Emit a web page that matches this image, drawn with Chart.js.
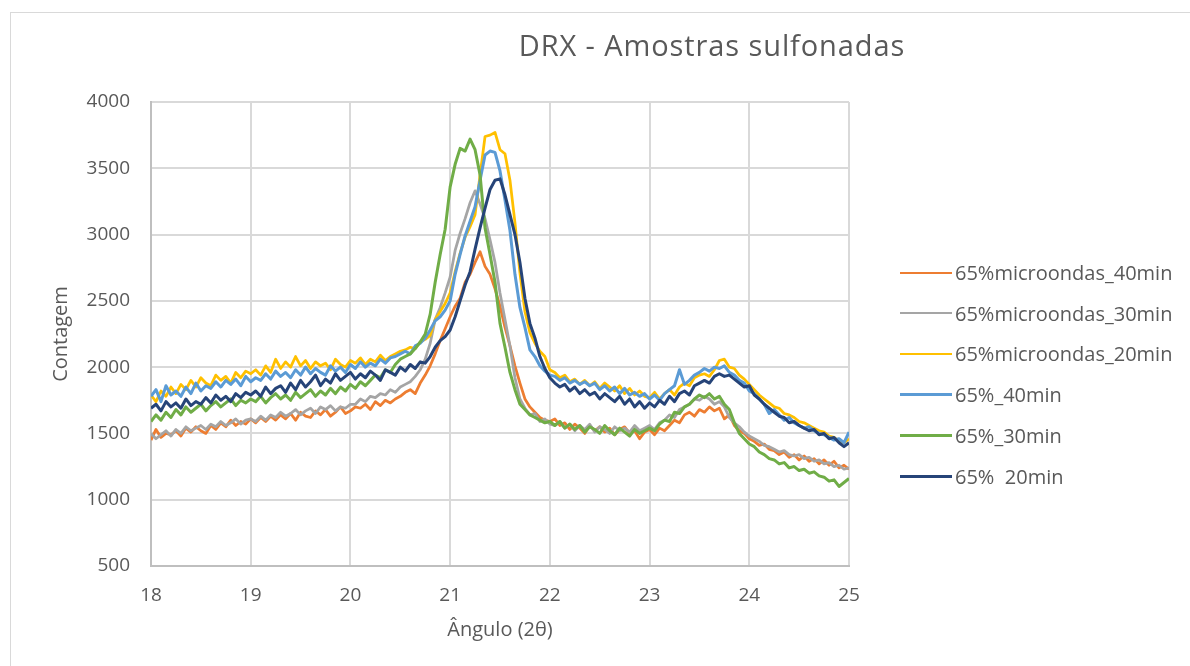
<!DOCTYPE html>
<html><head><meta charset="utf-8">
<script src="https://cdn.jsdelivr.net/npm/chart.js@4/dist/chart.umd.min.js"></script>
<style>
html,body{margin:0;padding:0;background:#fff;}
body{width:1190px;height:666px;overflow:hidden;position:relative;font-family:"Open Sans",sans-serif;}
#frame{position:absolute;left:10px;top:12px;width:1300px;height:800px;border-left:1px solid #d9d9d9;border-top:1px solid #d9d9d9;}
#c{position:absolute;left:0;top:0;}
#title{position:absolute;left:412px;width:600px;top:30px;text-align:center;font-size:29px;line-height:1;color:#595959;letter-spacing:0.9px;white-space:nowrap;}
.item{position:absolute;left:900px;height:24px;display:flex;align-items:center;white-space:pre;font-size:20px;color:#595959;}
.swatch{width:52px;margin-right:3px;}
</style></head>
<body>
<div id="frame"></div>
<canvas id="c" width="1190" height="666"></canvas>
<div id="title">DRX - Amostras sulfonadas</div>
<div id="legend"></div>
<script>
// ---- data ----
const CHART_TITLE = 'DRX - Amostras sulfonadas';
const X_TITLE = 'Ângulo (2θ)';
const Y_TITLE = 'Contagem';
const ANGLE_START = 18;
const ANGLE_STEP = 0.05;
const SERIES_LABELS = ['65%microondas_40min','65%microondas_30min','65%microondas_20min','65%_40min','65%_30min','65%  20min'];
const SERIES_COLORS = ['#ED7D31','#A5A5A5','#FFC000','#5B9BD5','#70AD47','#264478'];

const mw40 = [1450,1530,1470,1500,1490,1520,1480,1540,1510,1550,1520,1500,1560,1530,1580,1550,1600,1560,1590,1570,1610,
1580,1620,1590,1630,1600,1640,1610,1650,1600,1660,1630,1620,1670,1640,1680,1630,1660,1700,1650,1670,
1700,1690,1720,1680,1740,1710,1750,1730,1760,1780,
1810,1830,1800,1880,1940,2010,2100,2200,2290,
2380,2460,2520,2640,2700,2790,2870,2760,2700,2590,2460,2300,2160,2010,1880,1760,1700,1660,1620,1600,1590,
1610,1560,1580,1530,1570,1540,1500,1560,1520,1550,1510,1540,1490,1530,1550,1500,1520,1460,1510,
1530,1490,1540,1520,1560,1600,1580,1640,1660,1630,1680,1660,1700,1670,1690,1610,1640,1560,1520,1500,1460,1440,1410,1420,1380,1370,1340,1360,1320,1340,1300,1330,1290,1310,1270,1300,1260,1290,1240,1260,1230];

const mw30 = [1500,1460,1490,1520,1480,1530,1500,1550,1520,1540,1560,1530,1570,1550,1590,1560,1580,1610,1570,1600,1610,
1590,1630,1600,1640,1620,1660,1630,1650,1680,1640,1670,1690,1650,1700,1680,1710,1670,1700,1690,1720,
1720,1760,1740,1780,1770,1800,1790,1830,1810,1850,
1870,1890,1930,1980,2060,2180,2360,2450,2560,
2680,2880,3010,3120,3240,3330,3230,3120,2960,2790,2560,2360,2160,1920,1760,1690,1640,1650,1590,1610,1570,
1560,1590,1540,1570,1520,1560,1530,1570,1510,1550,1530,1500,1550,1520,1540,1510,1560,1520,1540,
1560,1530,1580,1600,1640,1620,1680,1700,1720,1760,1750,1780,1760,1720,1740,1700,1620,1580,1550,1510,1480,1460,1440,1410,1400,1380,1360,1370,1340,1330,1340,1310,1320,1290,1300,1270,1280,1250,1260,1230,1240];

const mw20 = [1790,1740,1820,1780,1850,1800,1870,1830,1900,1850,1920,1880,1860,1940,1900,1930,1880,1960,1920,1970,1950,
1980,1940,2010,1960,2060,1990,2040,2000,2080,2010,2050,1990,2040,2010,2030,1980,2060,2020,2000,2050,
2030,2070,2020,2060,2040,2090,2050,2080,2100,2120,
2130,2150,2140,2190,2210,2240,2360,2420,2480,
2560,2720,2860,2980,3060,3150,3450,3740,3750,3770,3640,3610,3410,3090,2710,2420,2260,2180,2120,2080,1980,
1960,1920,1940,1890,1910,1870,1900,1860,1890,1840,1880,1850,1820,1860,1800,1840,1790,1820,1780,
1770,1810,1760,1800,1830,1790,1850,1880,1860,1920,1940,1950,1930,1980,2050,2060,2000,1990,1940,1910,1870,1830,1790,1760,1730,1700,1690,1650,1640,1620,1590,1580,1560,1540,1520,1510,1480,1470,1440,1430,1460];

const p40 = [1780,1830,1740,1860,1790,1820,1780,1850,1800,1880,1820,1860,1840,1890,1850,1900,1870,1910,1860,1930,1890,
1920,1900,1950,1910,1970,1930,1960,1920,1980,1940,2000,1950,1990,1960,1940,2010,1970,2000,1960,2020,
1990,2040,2000,2030,2010,2060,2030,2070,2080,2100,
2120,2100,2160,2180,2220,2280,2350,2380,2430,
2500,2700,2850,2990,3100,3210,3410,3600,3630,3620,3480,3260,3030,2700,2450,2300,2130,2080,2010,1970,1940,
1930,1900,1920,1880,1900,1870,1890,1860,1880,1830,1860,1820,1850,1800,1840,1790,1810,1780,1800,
1760,1790,1750,1800,1830,1860,1980,1870,1900,1940,1960,1990,1970,2000,1990,2010,1960,1940,1900,1880,1820,1800,1760,1720,1650,1680,1640,1600,1620,1580,1560,1540,1550,1520,1500,1490,1470,1450,1460,1430,1510];

const p30 = [1590,1640,1600,1660,1620,1680,1640,1700,1660,1690,1720,1670,1710,1740,1700,1730,1760,1710,1750,1730,1760,
1740,1780,1730,1770,1800,1760,1790,1750,1810,1770,1800,1830,1780,1820,1790,1840,1800,1850,1820,1870,
1840,1890,1860,1900,1940,1920,1980,1960,2020,2060,
2080,2100,2140,2190,2250,2400,2640,2850,3040,
3360,3530,3650,3630,3720,3640,3450,3050,2850,2640,2330,2150,1960,1830,1720,1680,1640,1620,1600,1580,1590,
1560,1590,1540,1570,1530,1560,1510,1550,1530,1500,1560,1520,1490,1540,1510,1480,1530,1500,1520,
1540,1520,1570,1600,1590,1660,1650,1700,1720,1760,1790,1770,1800,1760,1780,1720,1680,1580,1500,1460,1420,1400,1360,1340,1310,1300,1270,1280,1240,1250,1220,1230,1200,1210,1180,1170,1140,1150,1100,1130,1160];

const p20 = [1690,1720,1670,1740,1700,1730,1690,1760,1710,1740,1720,1770,1730,1790,1750,1780,1740,1800,1770,1810,1790,
1820,1780,1850,1800,1840,1860,1810,1880,1830,1900,1850,1890,1940,1860,1910,1880,1950,1900,1930,1960,
1910,1950,1920,1970,1940,1900,1980,1960,1940,2000,
1970,2020,1990,2040,2030,2080,2150,2200,2230,
2280,2380,2500,2620,2720,2890,3050,3200,3340,3410,3420,3300,3150,3000,2790,2520,2330,2220,2080,1990,1920,
1880,1850,1870,1820,1850,1800,1830,1790,1810,1760,1800,1770,1740,1780,1720,1760,1700,1740,1690,
1730,1700,1750,1720,1780,1740,1800,1820,1790,1860,1880,1900,1880,1930,1950,1930,1940,1910,1880,1850,1860,1790,1760,1720,1690,1660,1630,1620,1580,1590,1560,1540,1520,1530,1490,1500,1460,1470,1430,1400,1430];

const SERIES = [mw40, mw30, mw20, p40, p30, p20];
const LINE_WIDTHS = [2.75, 2.75, 2.75, 3, 3, 3];
const X_MIN = 18, X_MAX = 25, X_STEP = 1;
const Y_MIN = 500, Y_MAX = 4000, Y_STEP = 500;

// ---- build ----
const ANGLES = mw40.map((_, i) => +(ANGLE_START + i * ANGLE_STEP).toFixed(2));
const FONT = 'Open Sans';
const GREY_TXT = '#595959';

const datasets = SERIES.map((vals, k) => ({
  label: SERIES_LABELS[k],
  data: vals.map((v, i) => ({x: ANGLES[i], y: v})),
  borderColor: SERIES_COLORS[k],
  backgroundColor: SERIES_COLORS[k],
  borderWidth: LINE_WIDTHS[k],
  pointRadius: 0,
  tension: 0,
  borderJoinStyle: 'round',
  order: SERIES.length - 1 - k
}));

new Chart(document.getElementById('c'), {
  type: 'line',
  data: { datasets },
  options: {
    responsive: false,
    animation: false,
    devicePixelRatio: 1,
    layout: { padding: { left: 0, top: 102, right: 341, bottom: 0 } },
    plugins: { legend: { display: false }, title: { display: false }, tooltip: { enabled: false } },
    scales: {
      x: {
        type: 'linear', min: X_MIN, max: X_MAX,
        afterFit(s) { s.height = 100; },
        ticks: { stepSize: X_STEP, color: GREY_TXT, font: { family: FONT, size: 19 }, padding: 18, maxRotation: 0, callback: v => String(v) },
        grid: { color: '#d9d9d9', lineWidth: 2, drawTicks: false },
        border: { color: '#bfbfbf', width: 2 },
        title: { display: true, text: X_TITLE, color: GREY_TXT, font: { family: FONT, size: 20 }, padding: { top: 0, bottom: 24 } }
      },
      y: {
        type: 'linear', min: Y_MIN, max: Y_MAX,
        afterFit(s) { s.width = 151; },
        ticks: { stepSize: Y_STEP, color: GREY_TXT, font: { family: FONT, size: 19 }, padding: 21, callback: v => String(v) },
        grid: { color: '#d9d9d9', lineWidth: 2, drawTicks: false },
        border: { color: '#bfbfbf', width: 2 },
        title: { display: true, text: Y_TITLE, color: GREY_TXT, font: { family: FONT, size: 20 }, padding: { top: 49, bottom: 0 } }
      }
    }
  }
});

// HTML legend built from series labels/colours
const LEGEND_CENTERS = [272.5, 313.2, 353.9, 394.6, 435.3, 476];
const legend = document.getElementById('legend');
SERIES_LABELS.forEach((lab, k) => {
  const it = document.createElement('div');
  it.className = 'item';
  it.style.top = (LEGEND_CENTERS[k] - 12) + 'px';
  const sw = document.createElement('span');
  sw.className = 'swatch';
  sw.style.height = (k < 3 ? 2 : 3) + 'px';
  sw.style.background = SERIES_COLORS[k];
  const tx = document.createElement('span');
  tx.textContent = lab;
  it.appendChild(sw); it.appendChild(tx);
  legend.appendChild(it);
});
document.getElementById('title').textContent = CHART_TITLE;
</script>
</body></html>
